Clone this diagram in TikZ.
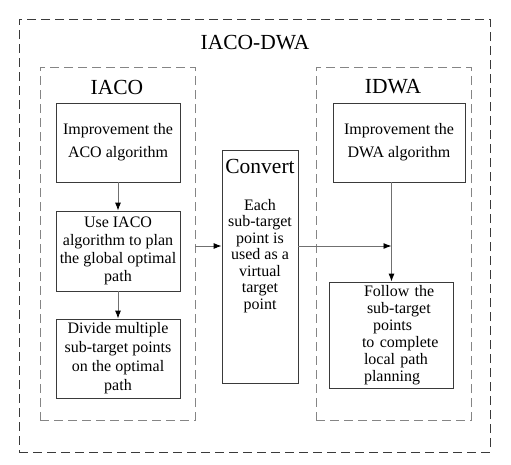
\documentclass[tikz,border=0pt]{standalone}
\usepackage{fontspec}
\setmainfont{Liberation Serif}
\usetikzlibrary{positioning,arrows.meta}
\definecolor{FrameGray}{HTML}{3A3A3A}
\definecolor{DashGray}{HTML}{858585}
\definecolor{LineGray}{HTML}{707070}

\begin{document}
\begin{tikzpicture}[x=1pt,y=-1pt,
  every node/.style={align=center,font=\fontsize{16}{18}\selectfont},
  stepbox/.style={draw=FrameGray,line width=0.8pt,minimum width=124pt,minimum height=79pt,inner sep=0pt},
  group/.style={draw=DashGray,line width=0.9pt,dash pattern=on 9pt off 5pt,minimum width=155pt,minimum height=353pt,inner sep=0pt},
  heading/.style={font=\fontsize{21.5}{24}\selectfont,inner sep=0pt},
  arr/.style={draw=LineGray,line width=0.9pt,-{Latex[length=8pt,width=6pt,black]}}]
  \useasboundingbox (0,0) rectangle (511,464);
  % frames
  \node[draw=FrameGray,line width=0.9pt,dash pattern=on 9pt off 5pt,minimum width=471pt,minimum height=433pt,inner sep=0pt] (outer) at (254.5,235.5) {};
  \node[heading] (ttl) at (255,43) {IACO-DWA};
  \node[group] (iaco) at (117.5,243.5) {};
  \node[group] (idwa) at (393.5,243.5) {};
  \node[heading] (iacolbl) at (117,87) {IACO};
  \node[heading] (idwalbl) at (393,87) {IDWA};
  % left column
  \node[stepbox,font=\fontsize{16}{23}\selectfont] (aco) at (118,142.5) {Improvement the\\ACO algorithm};
  \node[stepbox,minimum height=80pt] (use) at (118,251) {Use IACO\\algorithm to plan\\the global optimal\\path};
  \node[stepbox,font=\fontsize{16}{19}\selectfont] (divide) at (118,358.5) {Divide multiple\\sub-target points\\on the optimal\\path};
  % middle
  \node[stepbox,minimum width=76pt,minimum height=233pt] (conv) at (260,266.5) {};
  \node[heading] (convttl) at (260,166.5) {Convert};
  \node[anchor=north,inner sep=0pt,font=\fontsize{16}{16.5}\selectfont] (convtxt) at (260,199) {Each\\sub-target\\point is\\used as a\\virtual\\target\\point};
  % right column
  \node[stepbox,minimum width=132pt,font=\fontsize{16}{23}\selectfont] (dwa) at (399,142.5) {Improvement the\\DWA algorithm};
  \node[stepbox,minimum height=106pt,text width=123pt,inner xsep=0pt,align=left,font=\fontsize{16}{17}\selectfont] (follow) at (391.5,335)
    {\hspace*{34pt}Follow the\\\hspace*{37pt}sub-target\\\hspace*{43pt}points\\\hspace*{32pt}to complete\\\hspace*{34pt}local path\\\hspace*{34pt}planning};
  % connectors
  \coordinate (lvl) at (0,246);
  \draw[arr] (aco) -- (use);
  \draw[arr] (use) -- (divide);
  \draw[arr] (iaco.east |- lvl) -- (conv.west |- lvl);
  \draw[arr] (conv.east |- lvl) -- (follow.north |- lvl);
  \draw[arr] (dwa.south -| follow.north) -- (follow.north);
\end{tikzpicture}
\end{document}
